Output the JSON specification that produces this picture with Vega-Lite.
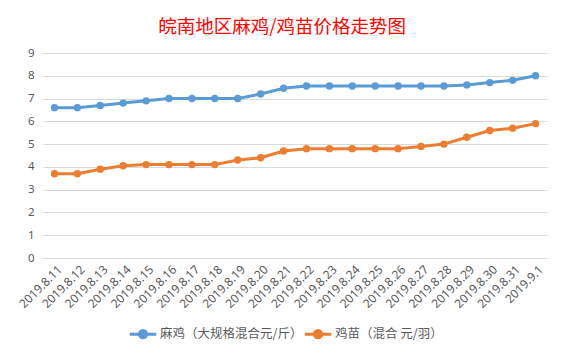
{
  "$schema": "https://vega.github.io/schema/vega-lite/v6.json",
  "autosize": {"type": "none"},
  "width": 504,
  "height": 205,
  "padding": {"left": 43, "top": 53, "right": 18, "bottom": 99},
  "background": "white",
  "title": {
    "text": "皖南地区麻鸡/鸡苗价格走势图",
    "font": "Noto Sans CJK SC",
    "fontSize": 18.5,
    "fontWeight": "normal",
    "color": "#FF0000",
    "anchor": "middle",
    "dx": -13,
    "offset": 11
  },
  "data": {
    "values": [
      {"date": "2019.8.11", "series": "麻鸡（大规格混合元/斤）", "price": 6.6},
      {"date": "2019.8.12", "series": "麻鸡（大规格混合元/斤）", "price": 6.6},
      {"date": "2019.8.13", "series": "麻鸡（大规格混合元/斤）", "price": 6.7},
      {"date": "2019.8.14", "series": "麻鸡（大规格混合元/斤）", "price": 6.8},
      {"date": "2019.8.15", "series": "麻鸡（大规格混合元/斤）", "price": 6.9},
      {"date": "2019.8.16", "series": "麻鸡（大规格混合元/斤）", "price": 7.0},
      {"date": "2019.8.17", "series": "麻鸡（大规格混合元/斤）", "price": 7.0},
      {"date": "2019.8.18", "series": "麻鸡（大规格混合元/斤）", "price": 7.0},
      {"date": "2019.8.19", "series": "麻鸡（大规格混合元/斤）", "price": 7.0},
      {"date": "2019.8.20", "series": "麻鸡（大规格混合元/斤）", "price": 7.2},
      {"date": "2019.8.21", "series": "麻鸡（大规格混合元/斤）", "price": 7.45},
      {"date": "2019.8.22", "series": "麻鸡（大规格混合元/斤）", "price": 7.55},
      {"date": "2019.8.23", "series": "麻鸡（大规格混合元/斤）", "price": 7.55},
      {"date": "2019.8.24", "series": "麻鸡（大规格混合元/斤）", "price": 7.55},
      {"date": "2019.8.25", "series": "麻鸡（大规格混合元/斤）", "price": 7.55},
      {"date": "2019.8.26", "series": "麻鸡（大规格混合元/斤）", "price": 7.55},
      {"date": "2019.8.27", "series": "麻鸡（大规格混合元/斤）", "price": 7.55},
      {"date": "2019.8.28", "series": "麻鸡（大规格混合元/斤）", "price": 7.55},
      {"date": "2019.8.29", "series": "麻鸡（大规格混合元/斤）", "price": 7.6},
      {"date": "2019.8.30", "series": "麻鸡（大规格混合元/斤）", "price": 7.7},
      {"date": "2019.8.31", "series": "麻鸡（大规格混合元/斤）", "price": 7.8},
      {"date": "2019.9.1", "series": "麻鸡（大规格混合元/斤）", "price": 8.0},
      {"date": "2019.8.11", "series": "鸡苗（混合 元/羽）", "price": 3.7},
      {"date": "2019.8.12", "series": "鸡苗（混合 元/羽）", "price": 3.7},
      {"date": "2019.8.13", "series": "鸡苗（混合 元/羽）", "price": 3.9},
      {"date": "2019.8.14", "series": "鸡苗（混合 元/羽）", "price": 4.05},
      {"date": "2019.8.15", "series": "鸡苗（混合 元/羽）", "price": 4.1},
      {"date": "2019.8.16", "series": "鸡苗（混合 元/羽）", "price": 4.1},
      {"date": "2019.8.17", "series": "鸡苗（混合 元/羽）", "price": 4.1},
      {"date": "2019.8.18", "series": "鸡苗（混合 元/羽）", "price": 4.1},
      {"date": "2019.8.19", "series": "鸡苗（混合 元/羽）", "price": 4.3},
      {"date": "2019.8.20", "series": "鸡苗（混合 元/羽）", "price": 4.4},
      {"date": "2019.8.21", "series": "鸡苗（混合 元/羽）", "price": 4.7},
      {"date": "2019.8.22", "series": "鸡苗（混合 元/羽）", "price": 4.8},
      {"date": "2019.8.23", "series": "鸡苗（混合 元/羽）", "price": 4.8},
      {"date": "2019.8.24", "series": "鸡苗（混合 元/羽）", "price": 4.8},
      {"date": "2019.8.25", "series": "鸡苗（混合 元/羽）", "price": 4.8},
      {"date": "2019.8.26", "series": "鸡苗（混合 元/羽）", "price": 4.8},
      {"date": "2019.8.27", "series": "鸡苗（混合 元/羽）", "price": 4.9},
      {"date": "2019.8.28", "series": "鸡苗（混合 元/羽）", "price": 5.0},
      {"date": "2019.8.29", "series": "鸡苗（混合 元/羽）", "price": 5.3},
      {"date": "2019.8.30", "series": "鸡苗（混合 元/羽）", "price": 5.6},
      {"date": "2019.8.31", "series": "鸡苗（混合 元/羽）", "price": 5.7},
      {"date": "2019.9.1", "series": "鸡苗（混合 元/羽）", "price": 5.9}
    ]
  },
  "mark": {"type": "line", "strokeWidth": 3, "point": {"filled": true, "size": 55}},
  "encoding": {
    "x": {
      "field": "date",
      "type": "ordinal",
      "sort": null,
      "scale": {"paddingInner": 0, "paddingOuter": 0.5},
      "axis": {
        "title": null,
        "labelAngle": -45,
        "labelAlign": "right",
        "labelBaseline": "middle",
        "labelFontSize": 12,
        "labelFont": "Noto Sans",
        "labelColor": "#595959",
        "labelPadding": 9,
        "labelOffset": 5,
        "ticks": false,
        "domain": false,
        "grid": false
      }
    },
    "y": {
      "field": "price",
      "type": "quantitative",
      "scale": {"domain": [0, 9], "nice": false},
      "axis": {
        "title": null,
        "values": [0, 1, 2, 3, 4, 5, 6, 7, 8, 9],
        "labelFontSize": 11.5,
        "labelFont": "Noto Sans",
        "labelColor": "#595959",
        "labelPadding": 9,
        "ticks": false,
        "domain": false,
        "gridColor": "#D9D9D9",
        "gridWidth": 1
      }
    },
    "color": {
      "field": "series",
      "type": "nominal",
      "scale": {
        "domain": ["麻鸡（大规格混合元/斤）", "鸡苗（混合 元/羽）"],
        "range": ["#5B9BD5", "#ED7D31"]
      },
      "legend": {
        "title": null,
        "orient": "none",
        "direction": "horizontal",
        "columns": 2,
        "legendX": 85,
        "legendY": 266,
        "labelFont": "Noto Sans CJK SC",
        "labelFontSize": 12.5,
        "labelColor": "#595959",
        "columnPadding": -17,
        "symbolType": "M-1,0L1,0M-0.28,0A0.28,0.28 0 1,1 0.28,0A0.28,0.28 0 1,1 -0.28,0",
        "symbolSize": 700,
        "symbolStrokeWidth": 3,
        "labelOffset": 2,
        "encode": {
          "symbols": {"update": {"fill": {"scale": "color", "field": "value"}}}
        }
      }
    }
  },
  "config": {"view": {"stroke": null}}
}
